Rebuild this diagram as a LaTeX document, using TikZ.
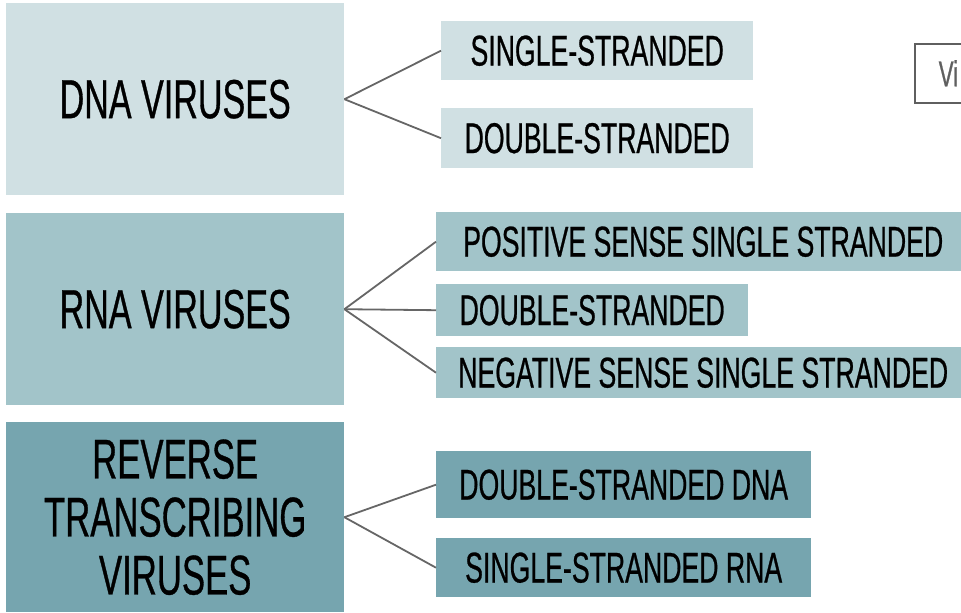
\documentclass[tikz,border=0pt]{standalone}
\usepackage{fontspec}
\setmainfont{Liberation Sans}[FakeStretch=0.62, FakeBold=0.6]
\definecolor{cyanlight}{HTML}{D0E0E3}
\definecolor{cyanmid}{HTML}{A2C4C9}
\definecolor{cyandark}{HTML}{76A5AF}
\definecolor{linkgray}{HTML}{666666}
\definecolor{titlegray}{HTML}{5F5F5F}
\tikzset{
  group/.style={fill=#1, anchor=north west, inner sep=0pt, align=center,
    minimum width=338pt, font=\fontsize{55}{58}\selectfont},
  kind/.style={fill=#1, anchor=north west, inner sep=0pt,
    font=\fontsize{43}{46}\selectfont},
  link/.style={draw=linkgray, line width=1.8pt}
}
\begin{document}
\begin{tikzpicture}[x=1pt, y=-1pt]
  \useasboundingbox (0,0) rectangle (961,613);
  \clip (0,0) rectangle (961,613);
  % main groups
  \node[group=cyanlight, minimum height=192pt] (dna) at (6,3) {DNA VIRUSES};
  \node[group=cyanmid, minimum height=192pt] (rna) at (6,213) {RNA VIRUSES};
  \node[group=cyandark, minimum height=190pt, font=\fontsize{56}{58}\selectfont]
    (rt) at (6,422) {REVERSE\\TRANSCRIBING\\VIRUSES};
  % kinds
  \node[kind=cyanlight, minimum width=312pt, minimum height=59pt] (ss) at (441,21) {SINGLE-STRANDED};
  \node[kind=cyanlight, minimum width=312pt, minimum height=60pt] (ds) at (441,108) {DOUBLE-STRANDED};
  \node[kind=cyanmid, minimum width=534pt, minimum height=59pt] (pos) at (436,212) {POSITIVE SENSE SINGLE STRANDED};
  \node[kind=cyanmid, minimum width=312pt, minimum height=52pt] (dsr) at (436,284) {DOUBLE-STRANDED};
  \node[kind=cyanmid, minimum width=534pt, minimum height=51pt] (neg) at (436,347) {NEGATIVE SENSE SINGLE STRANDED};
  \node[kind=cyandark, minimum width=375pt, minimum height=67pt] (dsdna) at (436,451) {DOUBLE-STRANDED DNA};
  \node[kind=cyandark, minimum width=375pt, minimum height=59pt] (ssrna) at (436,538) {SINGLE-STRANDED RNA};
  % title box, cut by the edge
  \node[draw=titlegray, line width=1.5pt, anchor=north west, inner xsep=24pt, inner ysep=0pt,
    text width=180pt, align=left, minimum height=59pt, text=titlegray,
    font=\fontsize{36}{38}\selectfont] (title) at (914,43) {Vi};
  % links
  \draw[link] (dna.east) -- (ss.west);
  \draw[link] (dna.east) -- (ds.west);
  \draw[link] (rna.east) -- (pos.west);
  \draw[link] (rna.east) -- (dsr.west);
  \draw[link] (rna.east) -- (neg.west);
  \draw[link] (rt.east) -- (dsdna.west);
  \draw[link] (rt.east) -- (ssrna.west);
\end{tikzpicture}
\end{document}
